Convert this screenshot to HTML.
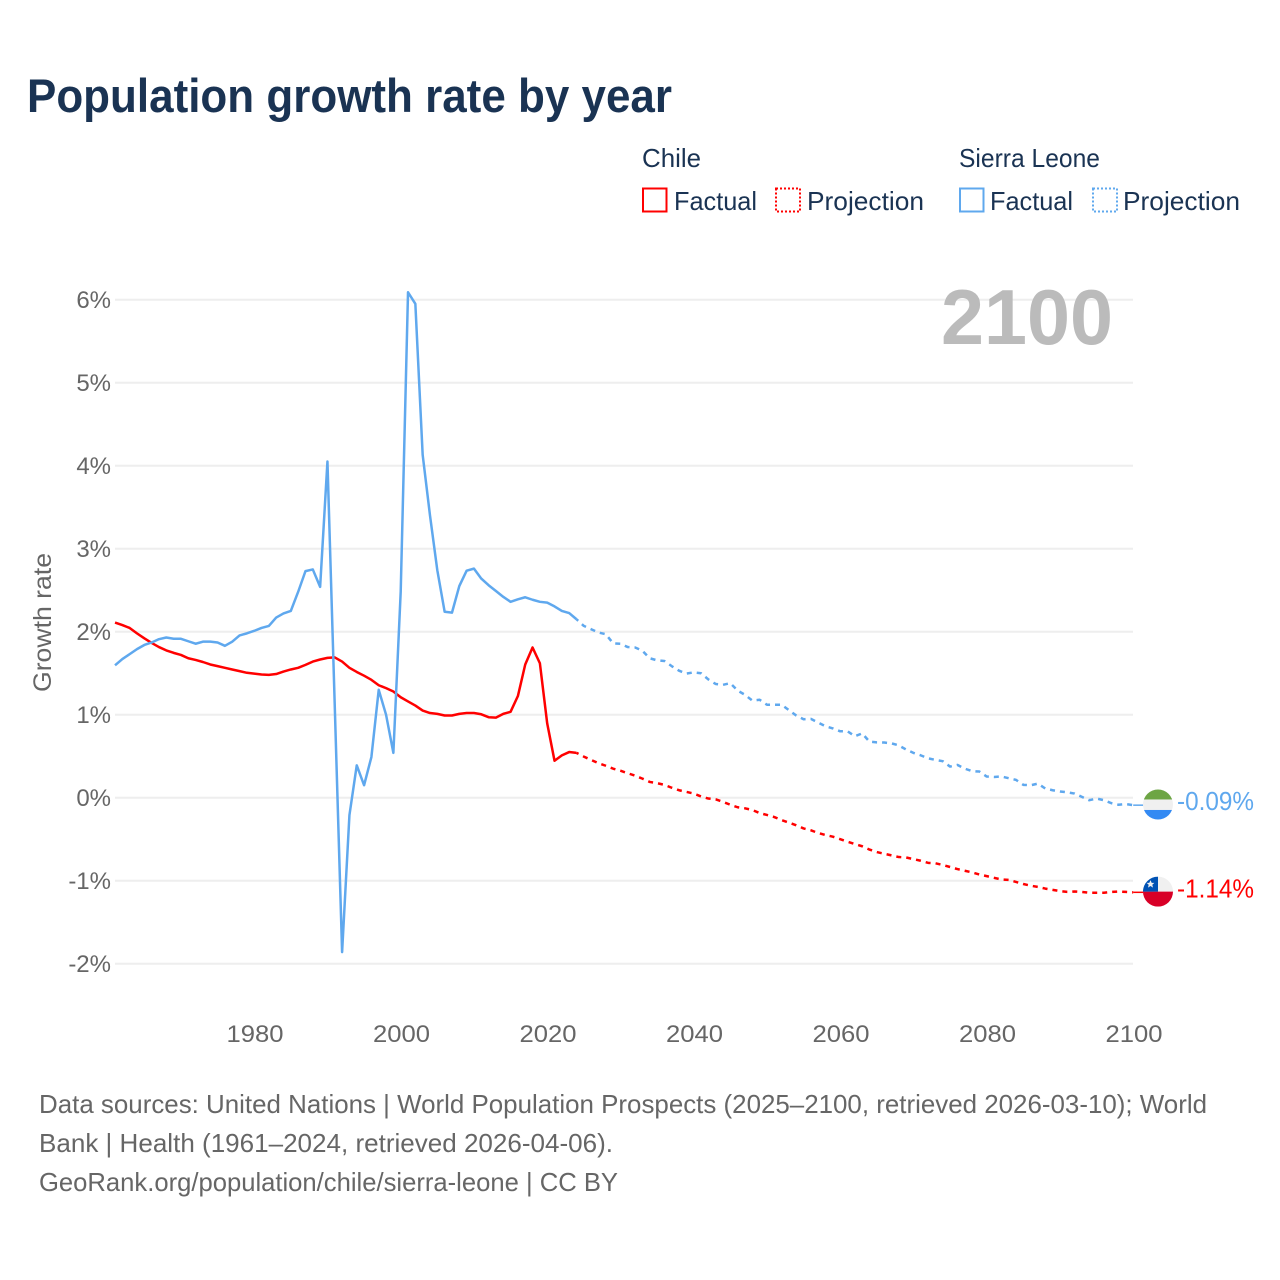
<!DOCTYPE html>
<html lang="en">
<head>
<meta charset="utf-8">
<title>Population growth rate by year</title>
<style>
html,body{margin:0;padding:0;background:#fff;width:1280px;height:1280px;overflow:hidden}
svg{display:block;font-family:"Liberation Sans",Arial,sans-serif}
</style>
</head>
<body>
<svg id="chart" xmlns="http://www.w3.org/2000/svg" width="1280" height="1280" viewBox="0 0 1280 1280">
  <rect x="0" y="0" width="1280" height="1280" fill="#fff"/>
  <text x="27" y="112" font-size="47" font-weight="700" fill="#1a3353" textLength="645" lengthAdjust="spacingAndGlyphs">Population growth rate by year</text>

  <g font-size="26" fill="#1a3353">
    <text x="642" y="167" textLength="59" lengthAdjust="spacingAndGlyphs">Chile</text>
    <rect x="643" y="188.5" width="23.5" height="23" fill="none" stroke="#ff0000" stroke-width="2"/>
    <text x="674" y="210" textLength="83" lengthAdjust="spacingAndGlyphs">Factual</text>
    <rect x="776" y="188.5" width="24" height="23" fill="none" stroke="#ff0000" stroke-width="2" stroke-dasharray="2,2"/>
    <text x="807" y="210" textLength="117" lengthAdjust="spacingAndGlyphs">Projection</text>
    <text x="959" y="167" textLength="141" lengthAdjust="spacingAndGlyphs">Sierra Leone</text>
    <rect x="960" y="188.5" width="23.5" height="23" fill="none" stroke="#5fa8ee" stroke-width="2"/>
    <text x="990" y="210" textLength="83" lengthAdjust="spacingAndGlyphs">Factual</text>
    <rect x="1093" y="188.5" width="24" height="23" fill="none" stroke="#5fa8ee" stroke-width="2" stroke-dasharray="2,2"/>
    <text x="1123" y="210" textLength="117" lengthAdjust="spacingAndGlyphs">Projection</text>
  </g>

  <g id="grid"></g>
  <g id="yticks" font-size="24" fill="#666" text-anchor="end"></g>
  <g id="xticks" font-size="24" fill="#666" text-anchor="middle"></g>
  <text transform="translate(51 692) rotate(-90)" font-size="25" fill="#666" textLength="139" lengthAdjust="spacingAndGlyphs">Growth rate</text>
  <text x="1113" y="344" text-anchor="end" font-size="78" font-weight="700" fill="#bbbbbb" textLength="172" lengthAdjust="spacingAndGlyphs">2100</text>

  <g id="series" fill="none" stroke-linejoin="round"></g>

  <defs>
    <clipPath id="flag-clip"><circle cx="0" cy="0" r="15"/></clipPath>
  </defs>
  <g id="flag-sl">
    <g clip-path="url(#flag-clip)">
      <rect x="-15" y="-15" width="30" height="30" fill="#f0f0f0"/>
      <rect x="-15" y="-15" width="30" height="10" fill="#6da544"/>
      <rect x="-15" y="5.5" width="30" height="10" fill="#338af3"/>
    </g>
  </g>
  <g id="flag-cl">
    <g clip-path="url(#flag-clip)">
      <rect x="-15" y="-15" width="30" height="15" fill="#f0f0f0"/>
      <rect x="-15" y="0" width="30" height="15" fill="#d80027"/>
      <rect x="-15" y="-15" width="15" height="15" fill="#0052b4"/>
      <polygon points="-7.5,-11.5 -6.3,-8.7 -3.6,-8.7 -5.7,-6.9 -5,-4 -7.5,-5.6 -10,-4 -9.3,-6.9 -11.4,-8.7 -8.7,-8.7" fill="#f0f0f0"/>
    </g>
  </g>
  <g id="endlabels" font-size="26"></g>

  <g font-size="26" fill="#666">
    <text x="39" y="1113" textLength="1168" lengthAdjust="spacingAndGlyphs">Data sources: United Nations | World Population Prospects (2025–2100, retrieved 2026-03-10); World</text>
    <text x="39" y="1152" textLength="574" lengthAdjust="spacingAndGlyphs">Bank | Health (1961–2024, retrieved 2026-04-06).</text>
    <text x="39" y="1191" textLength="579" lengthAdjust="spacingAndGlyphs">GeoRank.org/population/chile/sierra-leone | CC BY</text>
  </g>
</svg>
<script>
const xTickYears = [1980, 2000, 2020, 2040, 2060, 2080, 2100];
const yTickValues = [-2, -1, 0, 1, 2, 3, 4, 5, 6];
const factualStartYear = 1961;
const projectionStartYear = 2024;

const sierraLeoneFactual = [
  1.595,1.67,1.73,1.79,1.84,1.87,1.91,1.93,1.915,1.915,
  1.885,1.855,1.88,1.88,1.87,1.83,1.88,1.955,1.98,2.01,
  2.045,2.07,2.17,2.22,2.25,2.48,2.73,2.75,2.54,4.05,
  1.1,-1.86,-0.21,0.39,0.15,0.49,1.30,1.0,0.54,2.48,
  6.09,5.95,4.13,3.4,2.74,2.24,2.23,2.55,2.735,2.76,
  2.64,2.56,2.49,2.42,2.36,2.39,2.415,2.385,2.36,2.35,
  2.305,2.25,2.225,2.15
];
const sierraLeoneProjection = [
  2.15,2.07,2.03,1.99,1.97,1.86,1.855,1.815,1.81,1.77,
  1.68,1.655,1.647,1.585,1.53,1.495,1.51,1.50,1.425,1.37,
  1.36,1.38,1.29,1.24,1.17,1.18,1.12,1.12,1.12,1.055,
  0.99,0.945,0.95,0.905,0.86,0.835,0.80,0.80,0.74,0.775,
  0.675,0.667,0.665,0.655,0.63,0.58,0.54,0.51,0.475,0.455,
  0.44,0.375,0.395,0.35,0.32,0.315,0.255,0.25,0.255,0.235,
  0.215,0.155,0.15,0.17,0.11,0.09,0.075,0.065,0.05,0.01,
  -0.03,-0.01,-0.03,-0.065,-0.085,-0.076,-0.09
];
const chileFactual = [
  2.11,2.08,2.045,1.98,1.92,1.865,1.815,1.775,1.745,1.72,
  1.68,1.66,1.635,1.605,1.585,1.565,1.545,1.525,1.505,1.495,
  1.485,1.48,1.49,1.52,1.545,1.565,1.60,1.64,1.665,1.685,
  1.69,1.64,1.565,1.515,1.47,1.42,1.355,1.32,1.28,1.21,
  1.16,1.11,1.05,1.02,1.01,0.99,0.99,1.01,1.02,1.02,
  1.005,0.97,0.965,1.01,1.035,1.225,1.605,1.81,1.62,0.895,
  0.445,0.51,0.55,0.54
];
const chileProjection = [
  0.54,0.495,0.455,0.415,0.385,0.35,0.325,0.295,0.265,0.23,
  0.19,0.175,0.155,0.12,0.09,0.07,0.05,0.015,-0.01,-0.02,
  -0.05,-0.085,-0.115,-0.128,-0.148,-0.185,-0.208,-0.233,-0.27,-0.30,
  -0.333,-0.37,-0.393,-0.425,-0.45,-0.47,-0.50,-0.53,-0.558,-0.585,
  -0.625,-0.655,-0.675,-0.695,-0.715,-0.72,-0.74,-0.76,-0.785,-0.79,
  -0.81,-0.835,-0.86,-0.88,-0.90,-0.925,-0.945,-0.965,-0.985,-0.99,
  -1.015,-1.04,-1.06,-1.075,-1.095,-1.11,-1.125,-1.135,-1.13,-1.135,
  -1.145,-1.145,-1.145,-1.135,-1.13,-1.135,-1.14
];

const SVGNS = 'http://www.w3.org/2000/svg';
const BLUE = '#5fa8ee';
const RED = '#ff0000';

function xScale(year) { return 254.2 + (year - 1980) * 7.325; }
function yScale(value) { return 797.7 - value * 83.0; }
function pathFor(values, startYear) {
  return values.map(function (v, i) {
    return (i ? 'L' : 'M') + xScale(startYear + i).toFixed(2) + ' ' + yScale(v).toFixed(2);
  }).join(' ');
}
function make(tag, parentId) {
  const el = document.createElementNS(SVGNS, tag);
  document.getElementById(parentId).appendChild(el);
  return el;
}

yTickValues.forEach(function (v) {
  const line = make('line', 'grid');
  
  
  line.setAttribute('x1', 115);
  line.setAttribute('x2', 1133);
  line.setAttribute('y1', yScale(v));
  line.setAttribute('y2', yScale(v));
  line.setAttribute('stroke', '#eeeeee');
  line.setAttribute('stroke-width', 2);

  const label = make('text', 'yticks');
  
  
  label.setAttribute('x', 111);
  label.setAttribute('y', yScale(v) + 8.5);
  label.textContent = v + '%';
});

xTickYears.forEach(function (year) {
  const label = make('text', 'xticks');
  
  
  label.setAttribute('x', xScale(year) + 0.8);
  label.setAttribute('y', 1042);
  label.setAttribute('textLength', 57);
  label.setAttribute('lengthAdjust', 'spacingAndGlyphs');
  label.textContent = year;
});

/* Chile */
const chileFactualLine = make('path', 'series');


chileFactualLine.setAttribute('d', pathFor(chileFactual, factualStartYear));
chileFactualLine.setAttribute('stroke', RED);
chileFactualLine.setAttribute('stroke-width', 2.5);

const chileProjectionLine = make('path', 'series');


chileProjectionLine.setAttribute('d', pathFor(chileProjection, projectionStartYear));
chileProjectionLine.setAttribute('stroke', RED);
chileProjectionLine.setAttribute('stroke-width', 2.5);
chileProjectionLine.setAttribute('stroke-dasharray', '5,5');
chileProjectionLine.setAttribute('stroke-dashoffset', 2.7);

/* Sierra Leone */
const slFactualLine = make('path', 'series');


slFactualLine.setAttribute('d', pathFor(sierraLeoneFactual, factualStartYear));
slFactualLine.setAttribute('stroke', BLUE);
slFactualLine.setAttribute('stroke-width', 2.5);

const slProjectionLine = make('path', 'series');


slProjectionLine.setAttribute('d', pathFor(sierraLeoneProjection, projectionStartYear));
slProjectionLine.setAttribute('stroke', BLUE);
slProjectionLine.setAttribute('stroke-width', 2.5);
slProjectionLine.setAttribute('stroke-dasharray', '5,5');
slProjectionLine.setAttribute('stroke-dashoffset', 2.7);

/* End connectors, flags and value labels follow the last value of each series */
const slLast = sierraLeoneProjection[sierraLeoneProjection.length - 1];
const clLast = chileProjection[chileProjection.length - 1];

const slConnector = make('line', 'series');


slConnector.setAttribute('x1', xScale(2100));
slConnector.setAttribute('x2', xScale(2100) + 10);
slConnector.setAttribute('y1', yScale(slLast));
slConnector.setAttribute('y2', yScale(slLast));
slConnector.setAttribute('stroke', BLUE);
slConnector.setAttribute('stroke-width', 1.5);

const clConnector = make('line', 'series');


clConnector.setAttribute('x1', xScale(2100));
clConnector.setAttribute('x2', xScale(2100) + 10);
clConnector.setAttribute('y1', yScale(clLast));
clConnector.setAttribute('y2', yScale(clLast));
clConnector.setAttribute('stroke', RED);
clConnector.setAttribute('stroke-width', 1.5);

document.getElementById('flag-sl').setAttribute('transform', 'translate(1158 ' + (yScale(slLast) - 0.7) + ')');
document.getElementById('flag-cl').setAttribute('transform', 'translate(1158 ' + (yScale(clLast) - 0.7) + ')');

const slLabel = make('text', 'endlabels');


slLabel.setAttribute('x', 1177);
slLabel.setAttribute('y', yScale(slLast) + 5);
slLabel.setAttribute('fill', BLUE);
slLabel.setAttribute('textLength', 77);
slLabel.setAttribute('lengthAdjust', 'spacingAndGlyphs');
slLabel.textContent = slLast.toFixed(2) + '%';

const clLabel = make('text', 'endlabels');


clLabel.setAttribute('x', 1177);
clLabel.setAttribute('y', yScale(clLast) + 5);
clLabel.setAttribute('fill', RED);
clLabel.setAttribute('textLength', 77);
clLabel.setAttribute('lengthAdjust', 'spacingAndGlyphs');
clLabel.textContent = clLast.toFixed(2) + '%';
</script>
</body>
</html>
